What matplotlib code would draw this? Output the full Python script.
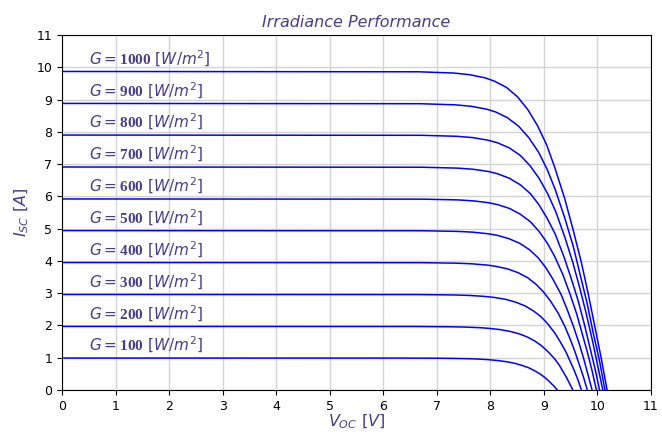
import matplotlib
matplotlib.use('Agg')
import matplotlib.pyplot as plt

# irradiance levels [W/m^2]
irradiance = [100, 200, 300, 400, 500, 600, 700, 800, 900, 1000]

# I-V curves (voltage [V], current [A])
v100 = [0, 6.35, 7.01, 7.29, 7.58, 7.75, 7.96, 8.15, 8.32, 8.47, 8.59, 8.71, 8.83, 8.93, 9.01, 9.08, 9.14, 9.20, 9.25]
i100 = [0.99, 0.989, 0.985, 0.980, 0.970, 0.960, 0.941, 0.911, 0.871, 0.822, 0.762, 0.693, 0.594, 0.495, 0.396, 0.297, 0.198, 0.099, 0]

v200 = [0, 6.57, 7.23, 7.52, 7.80, 7.97, 8.18, 8.38, 8.55, 8.70, 8.83, 8.95, 9.08, 9.19, 9.28, 9.35, 9.42, 9.48, 9.54]
i200 = [1.97, 1.968, 1.960, 1.950, 1.931, 1.911, 1.872, 1.812, 1.734, 1.635, 1.517, 1.379, 1.182, 0.985, 0.788, 0.591, 0.394, 0.197, 0]

v300 = [0, 6.66, 7.32, 7.61, 7.89, 8.06, 8.28, 8.47, 8.65, 8.80, 8.94, 9.06, 9.20, 9.31, 9.41, 9.49, 9.57, 9.64, 9.70]
i300 = [2.96, 2.957, 2.945, 2.930, 2.901, 2.871, 2.812, 2.723, 2.605, 2.457, 2.279, 2.072, 1.776, 1.480, 1.184, 0.888, 0.592, 0.296, 0]

v400 = [0, 6.70, 7.36, 7.65, 7.94, 8.10, 8.32, 8.52, 8.70, 8.85, 8.99, 9.12, 9.27, 9.39, 9.49, 9.58, 9.66, 9.74, 9.81]
i400 = [3.95, 3.946, 3.930, 3.911, 3.871, 3.832, 3.753, 3.634, 3.476, 3.279, 3.042, 2.765, 2.370, 1.975, 1.580, 1.185, 0.790, 0.395, 0]

v500 = [0, 6.72, 7.38, 7.67, 7.96, 8.13, 8.34, 8.55, 8.73, 8.89, 9.03, 9.16, 9.32, 9.44, 9.55, 9.65, 9.74, 9.82, 9.90]
i500 = [4.94, 4.935, 4.915, 4.891, 4.841, 4.792, 4.693, 4.545, 4.347, 4.100, 3.804, 3.458, 2.964, 2.470, 1.976, 1.482, 0.988, 0.494, 0]

v600 = [0, 6.73, 7.40, 7.68, 7.97, 8.14, 8.36, 8.56, 8.75, 8.91, 9.06, 9.20, 9.36, 9.49, 9.61, 9.71, 9.81, 9.90, 9.98]
i600 = [5.92, 5.914, 5.890, 5.861, 5.802, 5.742, 5.624, 5.446, 5.210, 4.914, 4.558, 4.144, 3.552, 2.960, 2.368, 1.776, 1.184, 0.592, 0]

v700 = [0, 6.72, 7.39, 7.67, 7.96, 8.13, 8.35, 8.56, 8.75, 8.91, 9.06, 9.21, 9.37, 9.51, 9.64, 9.75, 9.85, 9.95, 10.04]
i700 = [6.91, 6.903, 6.875, 6.841, 6.772, 6.703, 6.565, 6.357, 6.081, 5.735, 5.321, 4.837, 4.146, 3.455, 2.764, 2.073, 1.382, 0.691, 0]

v800 = [0, 6.72, 7.38, 7.67, 7.95, 8.13, 8.35, 8.56, 8.74, 8.91, 9.07, 9.22, 9.39, 9.54, 9.67, 9.79, 9.90, 10.00, 10.10]
i800 = [7.90, 7.892, 7.861, 7.821, 7.742, 7.663, 7.505, 7.268, 6.952, 6.557, 6.083, 5.530, 4.740, 3.950, 3.160, 2.370, 1.580, 0.790, 0]

v900 = [0, 6.69, 7.35, 7.64, 7.93, 8.10, 8.32, 8.53, 8.72, 8.90, 9.06, 9.21, 9.39, 9.55, 9.68, 9.81, 9.92, 10.04, 10.14]
i900 = [8.88, 8.871, 8.836, 8.791, 8.702, 8.614, 8.436, 8.170, 7.814, 7.370, 6.838, 6.216, 5.328, 4.440, 3.552, 2.664, 1.776, 0.888, 0]

v1000 = [0, 6.66, 7.32, 7.61, 7.90, 8.07, 8.30, 8.51, 8.70, 8.88, 9.05, 9.20, 9.39, 9.55, 9.70, 9.83, 9.95, 10.07, 10.18]
i1000 = [9.87, 9.860, 9.821, 9.771, 9.673, 9.574, 9.377, 9.080, 8.686, 8.192, 7.600, 6.909, 5.922, 4.935, 3.948, 2.961, 1.974, 0.987, 0]

curves = [(v100, i100), (v200, i200), (v300, i300), (v400, i400), (v500, i500),
          (v600, i600), (v700, i700), (v800, i800), (v900, i900), (v1000, i1000)]

ticks = list(range(0, 12))

plt.rcParams['mathtext.fontset'] = 'custom'
plt.rcParams['mathtext.it'] = 'DejaVu Sans:italic'
plt.rcParams['mathtext.rm'] = 'DejaVu Sans'
plt.rcParams['mathtext.bf'] = 'Liberation Serif:bold'
plt.rcParams['mathtext.sf'] = 'DejaVu Sans'

txt_color = '#483d8b'

fig = plt.figure(figsize=(6.62, 4.32), dpi=100)
ax = fig.add_axes([62/662, 1 - 390/432, (651 - 62)/662, (390 - 35)/432])

for g, (v, i) in zip(irradiance, curves):
    ax.plot(v, i, color='#0000ff', lw=1.1)
    ax.text(0.5, i[0] + 0.08, r'$G = \mathbf{%d}\ [W/m^{2}]$' % g,
            color=txt_color, fontsize=11, va='bottom', ha='left')

ax.set_xlim(0, 11)
ax.set_ylim(0, 11)
ax.set_xticks(ticks)
ax.set_yticks(ticks)
ax.tick_params(labelsize=9)
ax.grid(True, color='#d3d3d3', lw=1)
ax.set_axisbelow(True)

ax.set_title('Irradiance Performance', color=txt_color, fontsize=11.5, style='italic', pad=6)
ax.set_xlabel(r'$V_{OC}\ [V]$', color=txt_color, fontsize=11.5, labelpad=0)
ax.set_ylabel(r'$I_{SC}\ [A]$', color=txt_color, fontsize=11.5, labelpad=4)

fig.savefig('out.png', dpi=100)
